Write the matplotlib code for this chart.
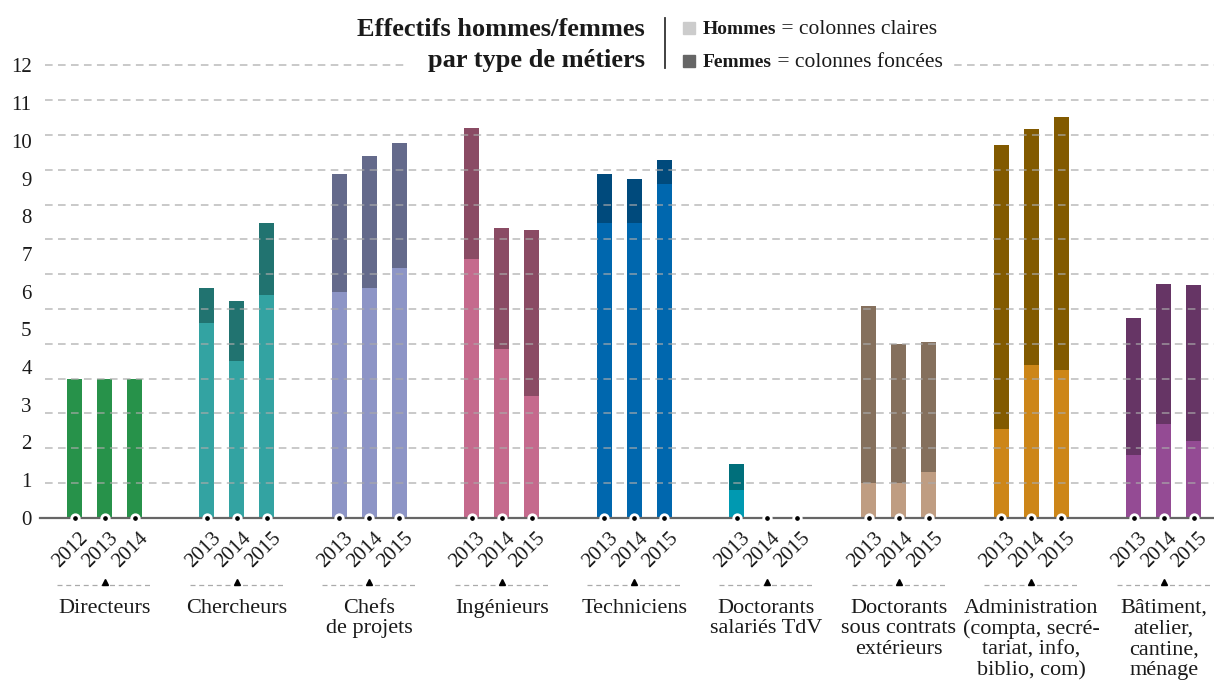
import matplotlib
matplotlib.use("Agg")
import matplotlib.pyplot as plt
from matplotlib.patches import Rectangle
import numpy as np

plt.rcParams['font.family'] = ['Liberation Serif', 'DejaVu Serif']

# ---------------- data ----------------
categories = ["Directeurs", "Chercheurs", "Chefs\nde projets", "Ingénieurs",
              "Techniciens", "Doctorants\nsalariés TdV",
              "Doctorants\nsous contrats\nextérieurs",
              "Administration\n(compta, secré-\ntariat, info,\nbiblio, com)",
              "Bâtiment,\natelier,\ncantine,\nménage"]
years = [["2012", "2013", "2014"]] + [["2013", "2014", "2015"]] * 8
hommes = [
    [4.0, 4.0, 4.0],
    [5.59, 4.50, 6.40],
    [6.49, 6.60, 7.17],
    [7.43, 4.85, 3.50],
    [8.47, 8.47, 9.59],
    [0.80, 0.0, 0.0],
    [1.00, 1.00, 1.32],
    [2.55, 4.39, 4.24],
    [1.80, 2.69, 2.20],
]
femmes = [
    [0.0, 0.0, 0.0],
    [1.01, 1.73, 2.07],
    [3.39, 3.79, 3.59],
    [3.77, 3.48, 4.77],
    [1.41, 1.26, 0.68],
    [0.74, 0.0, 0.0],
    [5.08, 3.99, 3.73],
    [8.16, 6.78, 7.27],
    [3.94, 4.02, 4.48],
]
y_tick_labels = [str(i) for i in range(13)]

# ---------------- styles ----------------
light_colors = ["#27924a", "#33a3a2", "#8d95c6", "#c56a8d", "#0067ae",
                "#0099b1", "#bf9d82", "#cd8618", "#944b94"]
dark_colors = ["#27924a", "#217370", "#646a8b", "#8a4b64", "#004a7c",
               "#006f7b", "#85705d", "#825a00", "#663565"]

W, H = 1214, 680
fig = plt.figure(figsize=(W / 100, H / 100), dpi=100)
ax_left, ax_right = 40, 1214
ax_bottom, ax_top = 517.7, 65.5
ax = fig.add_axes([ax_left / W, 1 - ax_bottom / H,
                   (ax_right - ax_left) / W, (ax_bottom - ax_top) / H])
group_px = 132.4
center0 = 104.5
ax.set_xlim((ax_left - center0) / group_px, (ax_right - center0) / group_px)
ax.set_ylim(0, 13)
for s in ax.spines.values():
    s.set_visible(False)

offset = 30 / group_px
bw = 15 / group_px
txt_color = "#1a1a1a"

for g, cat in enumerate(categories):
    xs = g + np.array([-offset, 0, offset])
    ax.bar(xs, hommes[g], width=bw, color=light_colors[g], zorder=2, linewidth=0)
    ax.bar(xs, femmes[g], width=bw, bottom=hommes[g], color=dark_colors[g],
           zorder=2, linewidth=0)
    # dots on the axis
    ax.plot(xs, [0, 0, 0], linestyle="none", marker="o", markersize=5.4,
            markerfacecolor="black", markeredgecolor="white",
            markeredgewidth=2.0, zorder=6, clip_on=False)
    # year labels
    for xv, yr in zip(xs, years[g]):
        ax.annotate(yr, xy=(xv, 0), xytext=(8, -12.5), textcoords="offset points",
                    rotation=45, rotation_mode="anchor", ha="right", va="center",
                    fontsize=15, color=txt_color, annotation_clip=False)
    # dashed separator + triangle + category label
    ax.plot([g - 0.355, g + 0.355], [-1.93, -1.93], color="#aaaaaa", lw=0.9,
            dashes=(4, 3), clip_on=False, zorder=3)
    ax.plot([g], [-1.86], marker="^", markersize=5, color="black",
            clip_on=False, zorder=4, linestyle="none")
    ax.text(g, -2.33, cat, ha="center", va="top", fontsize=16,
            color=txt_color, linespacing=1.12, clip_on=False,
            multialignment="center")

# gridlines (13 evenly spaced) and y labels (0..12 spread over the same height)
ax.set_yticks(np.linspace(0, 13, 13))
ax.set_yticklabels(y_tick_labels, fontsize=15, color=txt_color)
ax.tick_params(axis="y", which="both", length=0, pad=6)
ax.tick_params(axis="x", which="both", length=0, labelbottom=False)
ax.set_xticks([])
for yv in range(1, 14):
    ax.axhline(yv, xmin=5 / (ax_right - ax_left), xmax=1, color="#aaaaaa",
               lw=1.1, dashes=(5, 3.5), alpha=0.8, zorder=3, clip_on=False)
ax.axhline(0, color="#666666", lw=1.6, zorder=5, clip_on=False)

# white box behind the title interrupting the top gridline
fig.add_artist(Rectangle((405 / W, 1 - 80 / H), (953 - 405) / W, 30 / H,
                         transform=fig.transFigure, color="white", zorder=2))

# title
fig.text(645 / W, 1 - 29 / H, "Effectifs hommes/femmes", ha="right",
         va="center", fontsize=19, fontweight="bold", color=txt_color, zorder=4)
fig.text(645 / W, 1 - 61 / H, "par type de métiers", ha="right",
         va="center", fontsize=19, fontweight="bold", color=txt_color, zorder=4)
fig.add_artist(plt.Line2D([665 / W, 665 / W], [1 - 18 / H, 1 - 68 / H],
                          transform=fig.transFigure, color="#333333", lw=1.3,
                          zorder=4))

# legend
renderer = fig.canvas.get_renderer()
for yc, col, bold, rest in [(28, "#cccccc", "Hommes", " = colonnes claires"),
                            (61, "#666666", "Femmes", " = colonnes foncées")]:
    fig.add_artist(Rectangle((683 / W, 1 - (yc + 6) / H), 12 / W, 12 / H,
                             transform=fig.transFigure, color=col, zorder=4))
    t1 = fig.text(703 / W, 1 - (yc + 6) / H, bold, ha="left", va="baseline",
                  fontsize=14, fontweight="bold", color=txt_color, zorder=4)
    bb = t1.get_window_extent(renderer=renderer)
    fig.text(bb.x1 / W, 1 - (yc + 6) / H, rest, ha="left", va="baseline",
             fontsize=15.5, color=txt_color, zorder=4)

fig.savefig("out.png", dpi=100)
